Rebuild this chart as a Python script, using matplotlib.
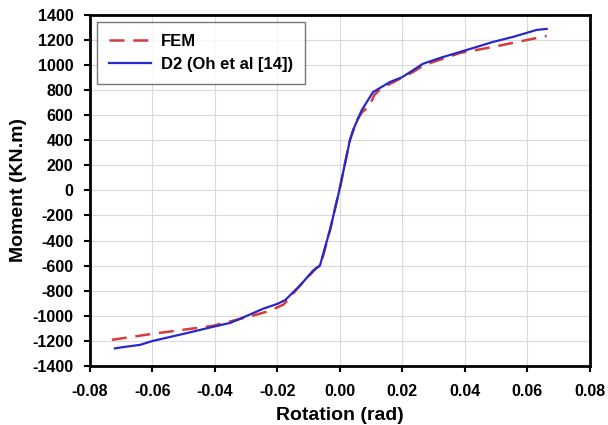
import matplotlib
matplotlib.use('Agg')
import matplotlib.pyplot as plt

# Data
d2_rot = [-0.0720, -0.0694, -0.0640, -0.0598, -0.0500, -0.0406, -0.0350, -0.0288,
          -0.0246, -0.0200, -0.0175, -0.0128, -0.0086, -0.0064, -0.0030, 0.0000,
          0.0032, 0.0042, 0.0070, 0.0106, 0.0160, 0.0200, 0.0266, 0.0320, 0.0406,
          0.0490, 0.0554, 0.0630, 0.0662]
d2_mom = [-1260, -1250, -1232, -1200, -1144, -1088, -1056, -990,
          -944, -905, -875, -760, -640, -600, -300, 20,
          400, 480, 640, 784, 864, 904, 1010, 1056, 1120,
          1184, 1224, 1280, 1288]

fem_rot = [-0.0730, -0.0600, -0.0406, -0.0280, -0.0224, -0.0180, -0.0128, -0.0074,
           -0.0062, -0.0030, 0.0000, 0.0032, 0.0055, 0.0070, 0.0096, 0.0110, 0.0130,
           0.0234, 0.0270, 0.0384, 0.0490, 0.0662]
fem_mom = [-1192, -1144, -1080, -1000, -960, -910, -760, -616,
           -600, -300, 20, 400, 560, 620, 680, 760, 810,
           944, 1000, 1096, 1144, 1232]

xticks = [-0.08, -0.06, -0.04, -0.02, 0.00, 0.02, 0.04, 0.06, 0.08]
yticks = list(range(-1400, 1401, 200))

plt.rcParams['font.family'] = ['Liberation Sans', 'DejaVu Sans']
plt.rcParams['axes.unicode_minus'] = False

fig = plt.figure(figsize=(6.08, 4.25), dpi=100)
ax = fig.add_axes([0.148, 0.139, 0.822, 0.826])

ax.plot(fem_rot, fem_mom, color='#d63c3c', linestyle=(0, (6, 3.5)), linewidth=1.8, label='FEM')
ax.plot(d2_rot, d2_mom, color='#2828c8', linewidth=1.6, label='D2 (Oh et al [14])')

ax.set_xlim(-0.08, 0.08)
ax.set_ylim(-1400, 1400)
ax.set_xticks(xticks)
ax.set_xticklabels([f'{t:.2f}' for t in xticks])
ax.set_yticks(yticks)
ax.grid(True, color='#d9d9d9', linewidth=0.8)
ax.set_axisbelow(True)

for s in ax.spines.values():
    s.set_linewidth(2)
ax.tick_params(direction='out', length=4, width=1.5, labelsize=11.5)
ax.tick_params(axis='x', pad=9)
ax.tick_params(axis='y', pad=8)
for lab in ax.get_xticklabels() + ax.get_yticklabels():
    lab.set_fontweight('bold')

ax.set_xlabel('Rotation (rad)', fontsize=14, fontweight='bold', labelpad=6)
ax.set_ylabel('Moment (KN.m)', fontsize=14, fontweight='bold', labelpad=4)

leg = ax.legend(loc='upper left', fontsize=12, frameon=True, fancybox=False,
                edgecolor='#555555', borderaxespad=0.4, handlelength=2.5,
                handletextpad=0.6, labelspacing=0.45, borderpad=0.75)
leg.get_frame().set_linewidth(1.0)
for t in leg.get_texts():
    t.set_fontweight('bold')

fig.savefig('out.png', dpi=100)
